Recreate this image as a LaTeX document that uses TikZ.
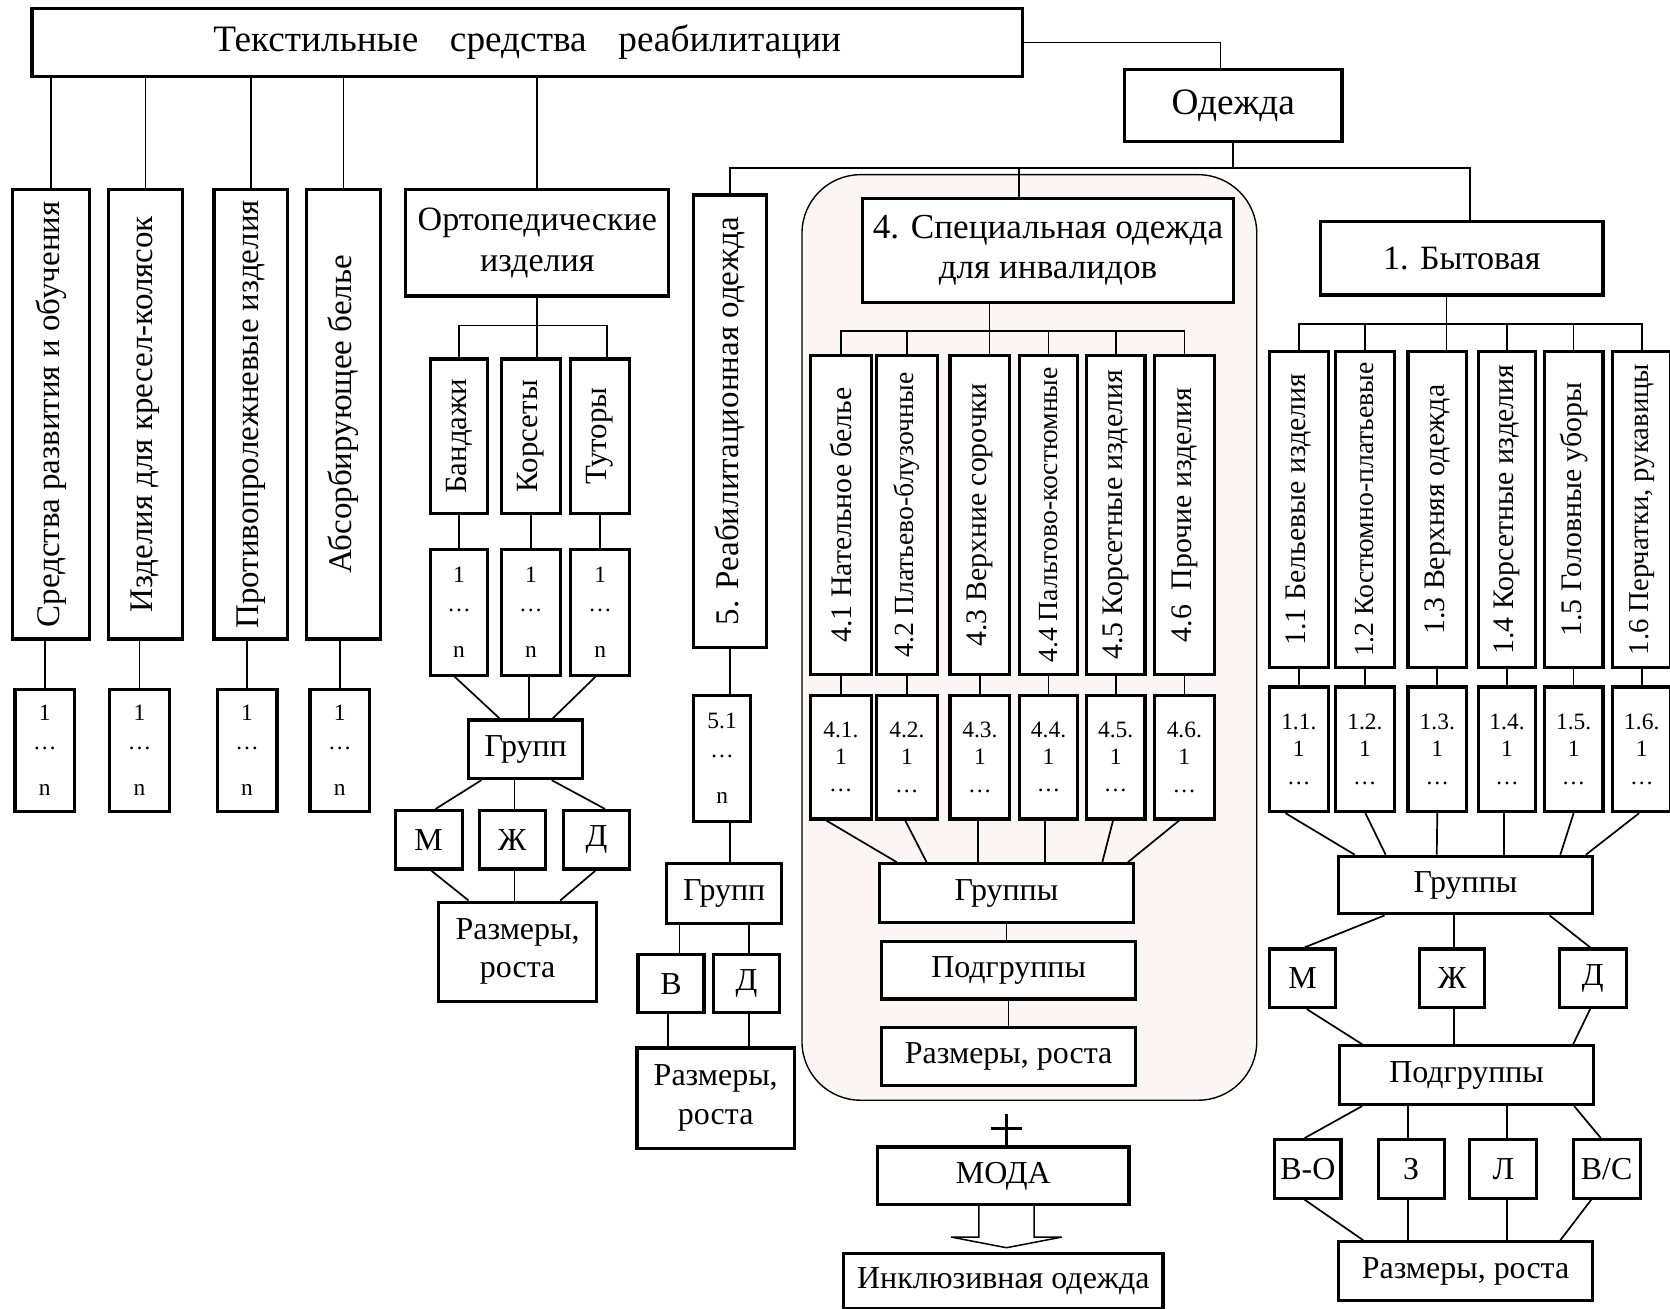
\documentclass[tikz,border=0pt]{standalone}
\usepackage{fontspec}
\setmainfont{Liberation Serif}
\usepackage{graphicx}
\usetikzlibrary{calc}
\definecolor{bgpink}{RGB}{252,245,245}
\tikzset{
  box/.style={draw, line width=3pt, fill=white, inner sep=0pt, align=center, font=\fontsize{30}{36}\selectfont},
  conn/.style={line width=1.6pt},
  f20/.style={font=\fontsize{22}{27}\selectfont},
  f22/.style={font=\fontsize{22}{25.5}\selectfont},
  f28/.style={font=\fontsize{28}{32}\selectfont},
}
\newcommand\bx[6][]{\node[box,minimum width={(#4-#2)*1pt},minimum height={(#5-#3)*1pt},#1] (#6) at ({(#2+#4)/2},{(#3+#5)/2})}
\newcommand\vt[1]{\rotatebox{90}{#1}}
\newcommand\cn[4]{\draw[conn] ([xshift=#2pt]#1.south) -- ([xshift=#4pt]#3.north);}
\begin{document}
\begin{tikzpicture}[x=1pt,y=-1pt]
\useasboundingbox (0,0) rectangle (1568,1229);
\fill[white] (0,0) rectangle (1568,1229);
% background of group 4
\draw[line width=1.3pt, fill=bgpink, rounded corners=55pt] (753,164) rectangle (1180,1033);

% ---- top level
\bx[font=\fontsize{35}{40}\selectfont]{30}{8}{960}{72}{title} {Текстильные\hspace{0.6em} средства\hspace{0.6em} реабилитации};
\bx[font=\fontsize{35}{40}\selectfont]{1056}{65}{1260}{133}{odezhda} {Одежда};

% ---- left tall boxes
\bx[font=\fontsize{31}{36}\selectfont]{12}{178}{84}{600}{A} {\vt{Средства развития и обучения}};
\bx[font=\fontsize{31}{36}\selectfont]{102}{178}{171}{600}{B} {\vt{Изделия для кресел-колясок}};
\bx[font=\fontsize{31}{36}\selectfont]{201}{178}{270}{600}{C} {\vt{Противопролежневые изделия}};
\bx[font=\fontsize{31}{36}\selectfont]{288}{178}{357}{600}{D} {\vt{Абсорбирующее белье}};
\bx[f20]{14}{647}{70}{762}{sA} {1\\…\\[16pt]n};
\bx[f20]{103}{647}{159}{762}{sB} {1\\…\\[16pt]n};
\bx[f20]{204}{647}{260}{762}{sC} {1\\…\\[16pt]n};
\bx[f20]{291}{647}{347}{762}{sD} {1\\…\\[16pt]n};

% ---- orthopedic
\bx[font=\fontsize{32}{38}\selectfont]{381}{178}{628}{278}{orto} {Ортопедические\\изделия};
\bx[font=\fontsize{29}{34}\selectfont]{404}{337}{458}{482}{band} {\vt{Бандажи}};
\bx[font=\fontsize{29}{34}\selectfont]{471}{337}{526}{482}{kors} {\vt{Корсеты}};
\bx[font=\fontsize{29}{34}\selectfont]{536}{337}{591}{482}{tut} {\vt{Туторы}};
\bx[f20]{404}{516}{458}{634}{sband} {1\\…\\[16pt]n};
\bx[f20]{471}{516}{526}{634}{skors} {1\\…\\[16pt]n};
\bx[f20]{536}{516}{591}{634}{stut} {1\\…\\[16pt]n};
\bx{440}{676}{547}{731}{grpA} {Групп};
\bx{371}{761}{434}{816}{MA} {М};
\bx{450}{761}{512}{816}{ZhA} {Ж};
\bx{529}{761}{591}{816}{DA} {Д};
\bx{412}{847}{560}{940}{razA} {Размеры,\\роста};

% ---- rehabilitation clothing
\bx[font=\fontsize{31}{36}\selectfont]{651}{183}{720}{608}{reab} {\vt{5. Реабилитационная одежда}};
\bx[f20]{651}{653}{705}{771}{s51} {5.1\\…\\[16pt]n};
\bx{626}{811}{734}{867}{grpB} {Групп};
\bx{599}{896}{661}{951}{VB} {В};
\bx{670}{896}{732}{951}{DB} {Д};
\bx{598}{984}{746}{1078}{razB} {Размеры,\\роста};

% ---- special clothing
\bx[font=\fontsize{33}{38}\selectfont]{810}{186}{1158}{284}{spec} {4. Специальная одежда\\для инвалидов};
\bx[f28]{761}{334}{818}{633}{b41} {\vt{4.1 Нательное белье}};
\bx[font=\fontsize{26}{30}\selectfont]{823}{334}{880}{633}{b42} {\vt{4.2 Платьево-блузочные}};
\bx[f28]{892}{334}{948}{633}{b43} {\vt{4.3 Верхние сорочки}};
\bx[font=\fontsize{26}{30}\selectfont]{957}{334}{1012}{633}{b44} {\vt{4.4 Пальтово-костюмные}};
\bx[f28]{1020}{334}{1075}{633}{b45} {\vt{4.5 Корсетные изделия}};
\bx[f28]{1084}{334}{1140}{633}{b46} {\vt{4.6\ \ Прочие изделия}};
\bx[f22]{761}{653}{818}{769}{s41} {4.1.\\1\\…};
\bx[f22]{823}{653}{880}{769}{s42} {4.2.\\1\\…};
\bx[f22]{892}{653}{948}{769}{s43} {4.3.\\1\\…};
\bx[f22]{957}{653}{1012}{769}{s44} {4.4.\\1\\…};
\bx[f22]{1020}{653}{1075}{769}{s45} {4.5.\\1\\…};
\bx[f22]{1084}{653}{1140}{769}{s46} {4.6.\\1\\…};
\bx{826}{811}{1064}{866}{grpC} {Группы};
\bx{828}{884}{1066}{938}{podC} {Подгруппы};
\bx{828}{965}{1066}{1019}{razC} {Размеры, роста};
\bx{824}{1077}{1060}{1131}{moda} {МОДА};
\bx{792}{1177}{1092}{1229}{incl} {Инклюзивная одежда};

% ---- everyday clothing
\bx[font=\fontsize{32}{38}\selectfont]{1240}{208}{1505}{277}{byt} {1. Бытовая};
\bx[f28]{1192}{330}{1247}{627}{b11} {\vt{1.1 Бельевые изделия}};
\bx[font=\fontsize{26}{30}\selectfont]{1254}{330}{1309}{627}{b12} {\vt{1.2 Костюмно-платьевые}};
\bx[f28]{1322}{330}{1377}{627}{b13} {\vt{1.3 Верхняя одежда}};
\bx[f28]{1388}{330}{1442}{627}{b14} {\vt{1.4 Корсетные изделия}};
\bx[f28]{1450}{330}{1505}{627}{b15} {\vt{1.5 Головные уборы}};
\bx[font=\fontsize{27}{30}\selectfont]{1514}{330}{1569}{627}{b16} {\vt{1.6 Перчатки, рукавицы}};
\bx[f22]{1192}{645}{1247}{762}{s11} {1.1.\\1\\…};
\bx[f22]{1254}{645}{1309}{762}{s12} {1.2.\\1\\…};
\bx[f22]{1322}{645}{1377}{762}{s13} {1.3.\\1\\…};
\bx[f22]{1388}{645}{1442}{762}{s14} {1.4.\\1\\…};
\bx[f22]{1450}{645}{1505}{762}{s15} {1.5.\\1\\…};
\bx[f22]{1514}{645}{1569}{762}{s16} {1.6.\\1\\…};
\bx{1257}{804}{1495}{858}{grpD} {Группы};
\bx{1192}{891}{1254}{946}{MD} {М};
\bx{1333}{891}{1394}{946}{ZhD} {Ж};
\bx{1464}{891}{1527}{946}{DD} {Д};
\bx{1258}{982}{1496}{1037}{podD} {Подгруппы};
\bx{1197}{1070}{1259}{1125}{VO} {В-О};
\bx{1294}{1070}{1356}{1125}{ZD} {З};
\bx{1380}{1070}{1443}{1125}{LD} {Л};
\bx{1477}{1070}{1540}{1125}{VS} {В/С};
\bx{1257}{1166}{1495}{1221}{razD} {Размеры, роста};

% ================= connectors
% title
\draw[conn] (title.south -| A.north) -- (A.north);
\draw[conn] (title.south -| B.north) -- (B.north);
\draw[conn] (title.south -| C.north) -- (C.north);
\draw[conn] (title.south -| D.north) -- (D.north);
\draw[conn] (title.south -| orto.north) -- (orto.north);
\coordinate (od1) at ([xshift=-12pt]odezhda.north);
\draw[conn] (title.east) -| (od1);
% left small
\draw[conn] (sA.north |- A.south) -- (sA.north);
\draw[conn] (sB.north |- B.south) -- (sB.north);
\draw[conn] (sC.north |- C.south) -- (sC.north);
\draw[conn] (sD.north |- D.south) -- (sD.north);
% orthopedic
\draw[conn] (orto.south) -- ++(0,26) coordinate (ob1);
\coordinate (tt) at ([xshift=6.5pt]tut.north);
\draw[conn] (band.north) |- (ob1) -| (tt);
\draw[conn] (ob1) -- (ob1 |- kors.north);
\draw[conn] (band.south) -- (sband.north);
\draw[conn] (kors.south) -- (skors.north);
\draw[conn] (tut.south) -- (stut.north);
\cn{sband}{-4}{grpA}{-24.5}
\cn{skors}{-1.5}{grpA}{3.5}
\cn{stut}{-4.5}{grpA}{25.5}
\cn{grpA}{-41.5}{MA}{6.5}
\cn{grpA}{-10.5}{ZhA}{2}
\cn{grpA}{24.5}{DA}{8}
\cn{MA}{2.5}{razA}{-46}
\cn{ZhA}{2}{razA}{-3}
\cn{DA}{-1}{razA}{40}
% clothing bar
\draw[conn] (odezhda.south) -- ++(0,23) coordinate (ob);
\coordinate (bt1) at ([xshift=7.5pt]byt.north);
\draw[conn] (reab.north) |- (ob) -| (bt1);
\coordinate (sp1) at ([xshift=-27pt]spec.north);
\draw[conn] (sp1 |- ob) -- (sp1);
% rehabilitation
\draw[conn] (reab.south) -- (reab.south |- s51.north);
\draw[conn] (s51.south -| reab.south) -- (grpB.north -| reab.south);
\cn{grpB}{-42}{VB}{8}
\cn{grpB}{23}{DB}{2}
\cn{VB}{-3}{razB}{-45}
\cn{DB}{2}{razB}{31}
% special
\coordinate (sp2) at ([xshift=-55pt]spec.south);
\draw[conn] (sp2) -- ++(0,25) coordinate (sb);
\draw[conn] (b41.north) |- (sb) -| (b46.north);
\draw[conn] (sb -| b42.north) -- (b42.north);
\draw[conn] (sb) -- (sb |- b43.north);
\draw[conn] (sb -| b44.north) -- (b44.north);
\draw[conn] (sb -| b45.north) -- (b45.north);
\draw[conn] (b41.south) -- (s41.north);
\draw[conn] (b42.south) -- (s42.north);
\draw[conn] (b43.south) -- (s43.north);
\draw[conn] (b44.south) -- (s44.north);
\draw[conn] (b45.south) -- (s45.north);
\draw[conn] (b46.south) -- (s46.north);
\cn{s41}{-13.5}{grpC}{-103}
\cn{s42}{-1.5}{grpC}{-75}
\cn{s43}{-2}{grpC}{-27}
\cn{s44}{-3.5}{grpC}{36}
\cn{s45}{-2.5}{grpC}{90}
\cn{s46}{-5}{grpC}{114}
\draw[conn] (grpC.south) -- (grpC.south |- podC.north);
\draw[conn] (podC.south) -- (podC.south |- razC.north);
% plus and arrow
\draw[line width=2.4pt] ([xshift=3pt]moda.north) -- ++(0,-30);
\draw[line width=2.4pt] ([xshift=-12pt,yshift=16pt]moda.north) -- ++(30,0);
\draw[line width=1.4pt] ([xshift=-23pt]moda.south) -- ++(0,29) -- ++(-26,0) -- ++(52,10) -- ++(52,-10) -- ++(-26,0) -- ++(0,-29);
% everyday
\coordinate (bt2) at ([xshift=-14.5pt]byt.south);
\draw[conn] (bt2) -- ++(0,26) coordinate (bb);
\draw[conn] (b11.north) |- (bb) -| (b16.north);
\draw[conn] (bb -| b12.north) -- (b12.north);
\draw[conn] (bb) -- (bb |- b13.north);
\draw[conn] (bb -| b14.north) -- (b14.north);
\draw[conn] (bb -| b15.north) -- (b15.north);
\draw[conn] (b11.south) -- (s11.north);
\draw[conn] (b12.south) -- (s12.north);
\draw[conn] (b13.south) -- (s13.north);
\draw[conn] (b14.south) -- (s14.north);
\draw[conn] (b15.south) -- (s15.north);
\draw[conn] (b16.south) -- (s16.north);
\cn{s11}{-12.5}{grpD}{-104}
\cn{s12}{0.5}{grpD}{-75}
\cn{s13}{0}{grpD}{-27}
\cn{s14}{-3}{grpD}{36}
\cn{s15}{0}{grpD}{89}
\cn{s16}{-2.5}{grpD}{113}
\cn{grpD}{-76}{MD}{2}
\cn{grpD}{-11}{ZhD}{1.5}
\cn{grpD}{79}{DD}{-2.5}
\cn{MD}{4}{podD}{-98}
\cn{ZhD}{1.5}{podD}{-12}
\cn{DD}{-2.5}{podD}{100}
\cn{podD}{-98}{VO}{-3}
\cn{podD}{-55}{ZD}{-3}
\cn{podD}{38}{LD}{3.5}
\cn{podD}{101}{VS}{-5.5}
\cn{VO}{-3}{razD}{-96}
\cn{ZD}{-3}{razD}{-54}
\cn{LD}{3.5}{razD}{39}
\cn{VS}{-14.5}{razD}{89}
\end{tikzpicture}
\end{document}
